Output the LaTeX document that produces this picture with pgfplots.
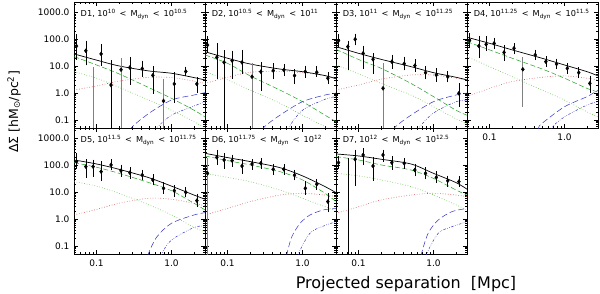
\documentclass[border=0pt]{standalone}
\usepackage{pgfplots}
\pgfplotsset{compat=1.18}
\usepackage{fontspec}
\setmainfont{DejaVu Sans}
\definecolor{gdash}{RGB}{30,160,30}
\definecolor{gdot}{RGB}{90,190,60}
\definecolor{rdot}{RGB}{210,70,70}
\definecolor{bline}{RGB}{50,50,200}
\pgfplotsset{
 every axis/.append style={xmin=0.05, xmax=2.8, ymin=0.05, ymax=2500,
  width=131pt, height=126pt, scale only axis, anchor=south west,
  xtick={0.1,1}, ytick={0.1,1,10,100,1000},
  minor xtick={0.06,0.07,0.08,0.09,0.2,0.3,0.4,0.5,0.6,0.7,0.8,0.9,2},
  minor ytick={0.06,0.07,0.08,0.09,0.2,0.3,0.4,0.5,0.6,0.7,0.8,0.9,2,3,4,5,6,7,8,9,20,30,40,50,60,70,80,90,200,300,400,500,600,700,800,900,2000},
  major tick length=4pt, minor tick length=2pt,
  tick style={black, line width=0.5pt}, axis line style={line width=0.7pt},
  clip marker paths=true,
  tick label style={font=\fontsize{9}{9}\selectfont},
  xticklabel style={yshift=-2pt},
  yticklabel style={xshift=-1pt}},
 mydat/.style={only marks, mark=diamond*, mark size=2pt, black,
  error bars/y dir=both, error bars/y explicit,
  error bars/error bar style={line width=0.6pt, black},
  error bars/error mark options={black, mark size=3.6pt, line width=0.6pt}},
 mydatg/.style={only marks, mark=diamond*, mark size=2pt, black,
  error bars/y dir=both, error bars/y explicit,
  error bars/error bar style={line width=0.7pt, gray},
  error bars/error mark options={gray, mark size=3.6pt, line width=0.7pt}},
 mblack/.style={black, line width=0.7pt, smooth},
 mgdash/.style={gdash, line width=0.5pt, dash pattern=on 5pt off 2.5pt, smooth},
 mgdot/.style={gdot, line width=0.6pt, dotted, smooth},
 mrdot/.style={rdot, line width=0.6pt, dotted, smooth},
 mbdash/.style={bline, line width=0.5pt, dash pattern=on 6pt off 3pt, smooth},
 mbdot/.style={bline, line width=0.5pt, dash pattern=on 2.5pt off 1.5pt on 0.6pt off 1.5pt on 0.6pt off 1.5pt, smooth},
}
\tikzset{ptxt/.style={anchor=west, font=\fontsize{8.2}{8.2}\selectfont, inner sep=0pt}}
\newcommand{\lt}{\,\ <\ \,}
\begin{document}
\begin{tikzpicture}
\path[use as bounding box] (0,0) rectangle (600pt,293pt);

% ---------------- D1 ----------------
\begin{loglogaxis}[xticklabels={}, yticklabels={0.1,1.0,10.0,100.0,1000.0}, at={(74pt,165pt)}]
\addplot[mgdot] coordinates {(0.05,6.3)(0.1,3.6)(0.2,1.64)(0.5,0.55)(1.0,0.23)(2.0,0.086)(2.8,0.05)};
\addplot[mgdash] coordinates {(0.05,23)(0.1,11.2)(0.2,5.2)(0.5,1.6)(1.0,0.64)(2.0,0.23)(2.8,0.13)};
\addplot[mrdot] coordinates {(0.05,1.31)(0.1,1.85)(0.2,2.8)(0.5,3.9)(1.0,3.8)(2.0,2.8)(2.8,2.3)};
\addplot[mbdash] coordinates {(0.26,0.02)(0.29,0.05)(0.5,0.176)(1.0,0.55)(2.0,0.85)(2.8,1.04)};
\addplot[mbdot] coordinates {(0.58,0.02)(0.64,0.05)(1.0,0.15)(2.0,0.33)(2.8,0.48)};
\addplot[mblack] coordinates {(0.05,29)(0.1,17)(0.2,10.3)(0.5,6.7)(1.0,5.5)(2.0,3.8)(2.8,3.1)};
\addplot[mydatg] table[x=x, y=y, y error plus expr=\thisrow{hi}-\thisrow{y}, y error minus expr=\thisrow{y}-\thisrow{lo}, row sep=\\] {x y lo hi\\ 0.090 0.01 0.005 6.7\\ 0.212 7.5 0.01 15\\ 0.783 0.51 0.01 2.5\\};
\addplot[mydat] table[x=x, y=y, y error plus expr=\thisrow{hi}-\thisrow{y}, y error minus expr=\thisrow{y}-\thisrow{lo}, row sep=\\] {x y lo hi\\ 0.054 57 23 117\\ 0.072 38 14.9 66\\ 0.115 29 14 50\\ 0.156 2.0 0.01 12.5\\ 0.278 9.0 2.8 15.8\\ 0.407 8.2 5.5 12\\ 0.564 4.6 1.3 7.5\\ 1.09 2.2 0.59 4.5\\ 1.55 6.4 5.7 7.2\\ 2.18 2.2 1.4 2.9\\};
\node[ptxt] at (rel axis cs:0.05,0.9) {D1, 10\textsuperscript{10}\lt M\textsubscript{dyn}\lt 10\textsuperscript{10.5}};
\end{loglogaxis}

% ---------------- D2 ----------------
\begin{loglogaxis}[xticklabels={}, yticklabels={}, at={(205pt,165pt)}]
\addplot[mgdot] coordinates {(0.05,6.3)(0.1,3.1)(0.2,1.3)(0.5,0.42)(1.0,0.15)(2.0,0.056)(2.8,0.035)};
\addplot[mgdash] coordinates {(0.05,26.5)(0.1,12.9)(0.2,4.4)(0.5,1.3)(1.0,0.48)(2.0,0.15)(2.8,0.086)};
\addplot[mrdot] coordinates {(0.05,2.3)(0.1,3.9)(0.2,6.0)(0.5,6.5)(1.0,5.8)(2.0,4.5)(2.8,3.7)};
\addplot[mbdash] coordinates {(0.27,0.02)(0.30,0.05)(0.5,0.15)(1.0,0.48)(2.0,0.85)(2.8,1.0)};
\addplot[mbdot] coordinates {(0.6,0.02)(0.65,0.05)(1.0,0.23)(2.0,0.59)(2.8,0.74)};
\addplot[mblack] coordinates {(0.05,35)(0.1,20)(0.2,12.2)(0.5,7.9)(1.0,6.3)(2.0,4.5)(2.8,3.4)};
\addplot[mydatg] table[x=x, y=y, y error plus expr=\thisrow{hi}-\thisrow{y}, y error minus expr=\thisrow{y}-\thisrow{lo}, row sep=\\] {x y lo hi\\ 0.212 4.1 0.01 9.7\\};
\addplot[mydat] table[x=x, y=y, y error plus expr=\thisrow{hi}-\thisrow{y}, y error minus expr=\thisrow{y}-\thisrow{lo}, row sep=\\] {x y lo hi\\ 0.054 62 42 95\\ 0.072 21.7 4.75 54\\ 0.090 14 0.01 29\\ 0.115 16.3 4.75 28\\ 0.156 14 6.9 29\\ 0.278 6.3 1.64 10.6\\ 0.407 6.9 4.4 9.7\\ 0.564 7.3 5.8 8.8\\ 0.783 4.5 3.1 5.6\\ 1.09 6.3 5.1 7.8\\ 1.55 6.0 5.4 7.3\\ 2.18 3.6 3.1 4.4\\};
\node[ptxt] at (rel axis cs:0.05,0.9) {D2, 10\textsuperscript{10.5}\lt M\textsubscript{dyn}\lt 10\textsuperscript{11}};
\end{loglogaxis}

% ---------------- D3 ----------------
\begin{loglogaxis}[xticklabels={}, yticklabels={}, at={(336pt,165pt)}]
\addplot[mgdot] coordinates {(0.05,11.2)(0.1,5.2)(0.2,2.3)(0.5,0.85)(1.0,0.31)(2.0,0.11)(2.8,0.074)};
\addplot[mgdash] coordinates {(0.05,43)(0.1,18)(0.2,8.4)(0.5,2.3)(1.0,0.74)(2.0,0.23)(2.8,0.15)};
\addplot[mrdot] coordinates {(0.05,1.31)(0.1,2.0)(0.2,3.3)(0.5,4.75)(1.0,4.75)(2.0,3.6)(2.8,3.1)};
\addplot[mbdash] coordinates {(0.27,0.02)(0.30,0.05)(0.5,0.15)(1.0,0.48)(2.0,0.85)(2.8,1.0)};
\addplot[mbdot] coordinates {(0.58,0.02)(0.64,0.05)(1.0,0.18)(2.0,0.48)(2.8,0.55)};
\addplot[mblack] coordinates {(0.05,54)(0.1,30.5)(0.2,18.2)(0.5,9.7)(1.0,5.8)(2.0,3.9)(2.8,3.1)};
\addplot[mydatg] table[x=x, y=y, y error plus expr=\thisrow{hi}-\thisrow{y}, y error minus expr=\thisrow{y}-\thisrow{lo}, row sep=\\] {x y lo hi\\ 0.212 1.51 0.01 9.7\\};
\addplot[mydat] table[x=x, y=y, y error plus expr=\thisrow{hi}-\thisrow{y}, y error minus expr=\thisrow{y}-\thisrow{lo}, row sep=\\] {x y lo hi\\ 0.054 91 72 117\\ 0.072 54 9.7 66\\ 0.090 102 83 121\\ 0.115 30.5 11.2 43\\ 0.156 18.2 7.3 23\\ 0.278 14.9 11.2 20\\ 0.407 12.5 9.7 17\\ 0.564 10.6 8.4 13.7\\ 0.783 5.8 4.4 7.3\\ 1.09 4.75 3.6 6.3\\ 1.55 4.1 3.4 4.75\\ 2.18 0.98 0.42 1.74\\};
\node[ptxt] at (rel axis cs:0.05,0.9) {D3, 10\textsuperscript{11}\lt M\textsubscript{dyn}\lt 10\textsuperscript{11.25}};
\end{loglogaxis}

% ---------------- D4 ----------------
\begin{loglogaxis}[xticklabels={0.1,1.0}, yticklabels={}, at={(467pt,165pt)}]
\addplot[mgdot] coordinates {(0.05,23)(0.1,9.7)(0.2,4.1)(0.5,1.3)(1.0,0.55)(2.0,0.2)(2.8,0.13)};
\addplot[mgdash] coordinates {(0.05,83)(0.1,41)(0.2,20)(0.5,8.0)(1.0,3.6)(2.0,1.5)(2.8,1.1)};
\addplot[mrdot] coordinates {(0.05,0.74)(0.1,1.5)(0.2,2.7)(0.5,3.9)(1.0,4.4)(2.0,3.6)(2.8,3.1)};
\addplot[mbdash] coordinates {(0.41,0.02)(0.45,0.05)(0.5,0.074)(1.0,0.31)(2.0,0.74)(2.8,1.3)};
\addplot[mbdot] coordinates {(0.62,0.02)(0.67,0.05)(1.0,0.13)(2.0,0.36)(2.8,0.48)};
\addplot[mblack] coordinates {(0.05,121)(0.1,72)(0.2,41)(0.5,20)(1.0,11.2)(2.0,6.3)(2.8,4.4)};
\addplot[mydatg] table[x=x, y=y, y error plus expr=\thisrow{hi}-\thisrow{y}, y error minus expr=\thisrow{y}-\thisrow{lo}, row sep=\\] {x y lo hi\\ 0.278 7.7 0.42 15.8\\};
\addplot[mydat] table[x=x, y=y, y error plus expr=\thisrow{hi}-\thisrow{y}, y error minus expr=\thisrow{y}-\thisrow{lo}, row sep=\\] {x y lo hi\\ 0.054 91 66 128\\ 0.072 57 28 102\\ 0.090 66 50 96\\ 0.115 72 59 86\\ 0.156 33 22 46\\ 0.212 47 38 54\\ 0.407 26.5 23 30.5\\ 0.564 14.9 13 17.7\\ 0.783 12.2 10.9 14.1\\ 1.09 8.4 7.1 9.7\\ 1.55 5.8 4.9 6.9\\ 2.18 2.3 1.43 3.3\\};
\node[ptxt] at (rel axis cs:0.05,0.9) {D4, 10\textsuperscript{11.25}\lt M\textsubscript{dyn}\lt 10\textsuperscript{11.5}};
\end{loglogaxis}

% ---------------- D5 ----------------
\begin{loglogaxis}[xticklabels={0.1,1.0}, yticklabels={0.1,1.0,10.0,100.0,1000.0}, at={(74pt,39pt)}]
\addplot[mgdot] coordinates {(0.05,25)(0.1,17)(0.2,9.2)(0.5,3.4)(1.0,1.43)(2.0,0.49)(2.8,0.34)};
\addplot[mgdash] coordinates {(0.05,128)(0.1,86)(0.2,51)(0.5,23)(1.0,11.5)(2.0,3.9)(2.8,2.2)};
\addplot[mrdot] coordinates {(0.05,1.43)(0.1,2.3)(0.2,3.9)(0.5,6.0)(1.0,5.5)(2.0,3.9)(2.8,3.1)};
\addplot[mbdash] coordinates {(0.46,0.02)(0.49,0.05)(0.64,0.22)(1.0,0.70)(2.0,1.43)(2.8,1.74)};
\addplot[mbdot] coordinates {(0.70,0.02)(0.74,0.05)(1.0,0.166)(2.0,0.49)(2.8,0.55)};
\addplot[mblack] coordinates {(0.05,161)(0.1,114)(0.2,72)(0.5,35)(1.0,17)(2.0,7.9)(2.8,5.5)};
\addplot[mydat] table[x=x, y=y, y error plus expr=\thisrow{hi}-\thisrow{y}, y error minus expr=\thisrow{y}-\thisrow{lo}, row sep=\\] {x y lo hi\\ 0.054 140 105 214\\ 0.072 91 48 128\\ 0.090 91 51 121\\ 0.115 59 36 105\\ 0.156 105 91 128\\ 0.212 64 51 79\\ 0.278 54 44 64\\ 0.407 44 38 51\\ 0.564 29 25 35\\ 0.783 14.1 12.2 17.7\\ 1.09 11.5 9.2 14\\ 1.55 10 8.8 11.5\\ 2.18 4.9 3.9 6.5\\};
\node[ptxt] at (rel axis cs:0.05,0.9) {D5, 10\textsuperscript{11.5}\lt M\textsubscript{dyn}\lt 10\textsuperscript{11.75}};
\end{loglogaxis}

% ---------------- D6 ----------------
\begin{loglogaxis}[xticklabels={0.1,1.0}, yticklabels={}, at={(205pt,39pt)}]
\addplot[mgdot] coordinates {(0.05,51)(0.1,36)(0.2,25)(0.5,12.2)(1.0,6.0)(2.0,2.9)(2.8,2.1)};
\addplot[mgdash] coordinates {(0.05,227)(0.1,152)(0.2,105)(0.5,59)(1.0,29)(2.0,9.2)(2.8,4.5)};
\addplot[mrdot] coordinates {(0.05,1.43)(0.1,2.5)(0.2,4.5)(0.5,7.9)(1.0,9.2)(2.0,7.9)(2.8,6.9)};
\addplot[mbdash] coordinates {(0.58,0.02)(0.62,0.05)(0.72,0.22)(0.93,0.70)(1.26,1.43)(1.9,2.2)(2.8,2.5)};
\addplot[mbdot] coordinates {(0.84,0.02)(0.88,0.05)(1.26,0.3)(1.9,0.55)(2.8,0.8)};
\addplot[mblack] coordinates {(0.05,285)(0.1,197)(0.2,140)(0.5,83)(1.0,41)(2.0,16.3)(2.8,9.7)};
\addplot[mydatg] table[x=x, y=y, y error plus expr=\thisrow{hi}-\thisrow{y}, y error minus expr=\thisrow{y}-\thisrow{lo}, row sep=\\] {x y lo hi\\ 0.054 51 0.01 140\\};
\addplot[mydat] table[x=x, y=y, y error plus expr=\thisrow{hi}-\thisrow{y}, y error minus expr=\thisrow{y}-\thisrow{lo}, row sep=\\] {x y lo hi\\ 0.072 202 140 285\\ 0.090 161 105 214\\ 0.115 152 121 186\\ 0.156 96 68 128\\ 0.212 114 96 128\\ 0.278 121 105 136\\ 0.407 72 62 83\\ 0.564 72 62 83\\ 0.783 44 38 51\\ 1.09 14.1 10.6 18.8\\ 1.55 20 17 23\\ 2.18 4.5 2.5 6.9\\};
\node[ptxt] at (rel axis cs:0.05,0.9) {D6, 10\textsuperscript{11.75}\lt M\textsubscript{dyn}\lt 10\textsuperscript{12}};
\end{loglogaxis}

% ---------------- D7 ----------------
\begin{loglogaxis}[xticklabels={0.1,1.0}, yticklabels={}, at={(336pt,39pt)}]
\addplot[mgdot] coordinates {(0.05,51)(0.1,41)(0.2,29)(0.5,16.3)(1.0,7.9)(2.0,3.4)(2.8,2.2)};
\addplot[mgdash] coordinates {(0.05,214)(0.1,161)(0.2,105)(0.5,68)(1.0,33)(2.0,12.2)(2.8,7.9)};
\addplot[mrdot] coordinates {(0.05,1.64)(0.1,2.9)(0.2,5.2)(0.5,7.9)(1.0,9.2)(2.0,7.9)(2.8,6.9)};
\addplot[mbdash] coordinates {(0.66,0.02)(0.69,0.05)(0.85,0.3)(1.16,0.93)(1.76,1.9)(2.8,2.5)};
\addplot[mbdot] coordinates {(0.78,0.02)(0.81,0.05)(1.16,0.3)(1.76,0.52)(2.8,0.8)};
\addplot[mblack] coordinates {(0.05,269)(0.1,227)(0.2,171)(0.5,114)(1.0,51)(2.0,23)(2.8,13)};
\addplot[mydat] table[x=x, y=y, y error plus expr=\thisrow{hi}-\thisrow{y}, y error minus expr=\thisrow{y}-\thisrow{lo}, row sep=\\] {x y lo hi\\ 0.054 128 105 161\\ 0.072 0.01 0.005 140\\ 0.090 171 23 285\\ 0.115 247 140 330\\ 0.156 96 36 152\\ 0.212 247 186 285\\ 0.278 128 96 161\\ 0.407 121 105 140\\ 0.564 68 54 86\\ 0.783 51 41 62\\ 1.09 36 31 44\\ 1.55 27 22 31\\ 2.18 25 22 29\\};
\node[ptxt] at (rel axis cs:0.05,0.9) {D7, 10\textsuperscript{12}\lt M\textsubscript{dyn}\lt 10\textsuperscript{12.5}};
\end{loglogaxis}

\node[rotate=90, anchor=center, font=\fontsize{12.5}{12.5}\selectfont] at (14pt,181pt) {ΔΣ\ [hM\textsubscript{⊙}/pc\textsuperscript{2}]};
\node[anchor=base, font=\fontsize{16}{16}\selectfont] at (406pt,5pt) {Projected separation\ \ [Mpc]};
\end{tikzpicture}
\end{document}
